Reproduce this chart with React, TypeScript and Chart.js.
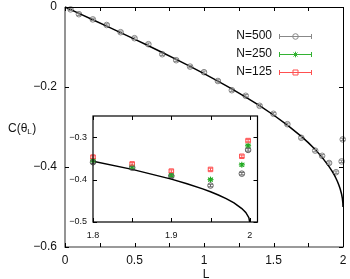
import React, { useEffect, useRef } from 'react';
import { Chart, registerables } from 'chart.js';

Chart.register(...registerables);

// ---------- data ----------
const curveL = [0, 0.1, 0.2, 0.3, 0.4, 0.5, 0.6, 0.7, 0.8, 0.9, 1.0, 1.1, 1.2, 1.3, 1.4, 1.5, 1.6, 1.7, 1.75, 1.8, 1.85, 1.9, 1.92, 1.94, 1.95, 1.96, 1.97, 1.98, 1.99, 1.995, 1.999, 2.0];
const curveC = [0, -0.0159, -0.0319, -0.0479, -0.0641, -0.0804, -0.097, -0.1138, -0.131, -0.1486, -0.1667, -0.1854, -0.2048, -0.2252, -0.2468, -0.27, -0.2952, -0.3234, -0.3391, -0.3564, -0.3759, -0.3989, -0.4097, -0.4218, -0.4287, -0.4362, -0.4448, -0.4549, -0.4682, -0.4775, -0.4899, -0.5];

const mainL = [0.04, 0.1, 0.2, 0.3, 0.4, 0.5, 0.6, 0.7, 0.8, 0.9, 1.0, 1.1, 1.2, 1.3, 1.4, 1.5, 1.6, 1.7, 1.8, 1.85, 1.9, 1.95, 1.99, 1.998];
const n500Main = [-0.006, -0.018, -0.031, -0.045, -0.063, -0.078, -0.093, -0.118, -0.133, -0.149, -0.163, -0.185, -0.208, -0.222, -0.247, -0.267, -0.293, -0.327, -0.359, -0.372, -0.39, -0.413, -0.386, -0.331];
const n500MainErr = [0.003, 0.003, 0.003, 0.003, 0.003, 0.003, 0.003, 0.003, 0.003, 0.003, 0.003, 0.003, 0.003, 0.003, 0.003, 0.003, 0.003, 0.003, 0.003, 0.003, 0.003, 0.003, 0.003, 0.003];

const insetL = [1.8, 1.85, 1.9, 1.95, 1.99, 1.998];
const n500Inset = [-0.359, -0.372, -0.392, -0.414, -0.386, -0.33];
const n250Inset = [-0.355, -0.37, -0.39, -0.4, -0.365, -0.32];
const n125Inset = [-0.347, -0.363, -0.38, -0.376, -0.345, -0.308];
const insetErr = [0.003, 0.003, 0.003, 0.003, 0.003, 0.003];

const mainXTicks = [0, 0.5, 1, 1.5, 2];
const mainXMinor = [0.25, 0.75, 1.25, 1.75];
const mainYTicks = [0, -0.2, -0.4, -0.6];
const insetXTicks = [1.8, 1.9, 2];
const insetXMinor = [1.85, 1.95];
const insetYTicks = [-0.5, -0.4, -0.3];

const legendLabels = ['N=500', 'N=250', 'N=125'];
const legendColors = ['#888888', '#33b233', '#ff5050'];
const legendStyles = ['circle', 'star', 'rect'];

const FONT = '"Liberation Sans", Arial, Helvetica, sans-serif';

function fmt(v: number): string {
  if (v === 0) return '0';
  return (v < 0 ? '\u2212' : '') + String(Math.abs(v));
}

function pts(xs: number[], ys: number[]) {
  return xs.map((x, i) => ({ x, y: ys[i] }));
}

function drawMarker(ctx: CanvasRenderingContext2D, style: string, x: number, y: number, r: number) {
  ctx.beginPath();
  if (style === 'circle') {
    ctx.arc(x, y, r, 0, Math.PI * 2);
  } else if (style === 'rect') {
    ctx.rect(x - r, y - r, 2 * r, 2 * r);
  } else {
    const d = r * Math.SQRT1_2;
    ctx.moveTo(x - r, y); ctx.lineTo(x + r, y);
    ctx.moveTo(x, y - r); ctx.lineTo(x, y + r);
    ctx.moveTo(x - d, y - d); ctx.lineTo(x + d, y + d);
    ctx.moveTo(x - d, y + d); ctx.lineTo(x + d, y - d);
  }
  ctx.stroke();
}

const errorBarPlugin = {
  id: 'errbars',
  afterDatasetsDraw(chart: any) {
    const ctx = chart.ctx as CanvasRenderingContext2D;
    const ys = chart.scales.y;
    chart.data.datasets.forEach((ds: any, i: number) => {
      if (!ds.errors) return;
      const meta = chart.getDatasetMeta(i);
      ctx.save();
      ctx.strokeStyle = ds.borderColor;
      ctx.lineWidth = 1;
      const cap = ds.capWidth || 2.5;
      meta.data.forEach((pt: any, j: number) => {
        const v = ds.data[j].y;
        const e = ds.errors[j];
        const y1 = ys.getPixelForValue(v - e);
        const y2 = ys.getPixelForValue(v + e);
        const x = pt.x;
        ctx.beginPath();
        ctx.moveTo(x, y1); ctx.lineTo(x, y2);
        ctx.moveTo(x - cap, y1); ctx.lineTo(x + cap, y1);
        ctx.moveTo(x - cap, y2); ctx.lineTo(x + cap, y2);
        ctx.stroke();
      });
      ctx.restore();
    });
  },
};

const mainFrame = {
  id: 'mainFrame',
  afterDraw(chart: any) {
    const ctx = chart.ctx as CanvasRenderingContext2D;
    const { left, right, top, bottom } = chart.chartArea;
    const xs = chart.scales.x;
    const ys = chart.scales.y;
    ctx.save();
    // border
    ctx.lineWidth = 1;
    ctx.strokeStyle = '#000';
    ctx.beginPath();
    ctx.moveTo(left, top + 0.5); ctx.lineTo(right + 0.5, top + 0.5); ctx.lineTo(right + 0.5, bottom);
    ctx.stroke();
    ctx.lineWidth = 1.6;
    ctx.strokeStyle = '#7a7a7a';
    ctx.beginPath();
    ctx.moveTo(left, top); ctx.lineTo(left, bottom); ctx.lineTo(right + 1, bottom);
    ctx.stroke();
    // ticks
    ctx.lineWidth = 1;
    ctx.strokeStyle = '#000';
    ctx.beginPath();
    [...mainXTicks, ...mainXMinor].forEach((v) => {
      const px = Math.round(xs.getPixelForValue(v)) + 0.5;
      ctx.moveTo(px, bottom); ctx.lineTo(px, bottom - 4);
      ctx.moveTo(px, top); ctx.lineTo(px, top + 4);
    });
    mainYTicks.forEach((v) => {
      const py = Math.round(ys.getPixelForValue(v)) + 0.5;
      ctx.moveTo(left, py); ctx.lineTo(left + 4, py);
      ctx.moveTo(right, py); ctx.lineTo(right - 4, py);
    });
    ctx.stroke();
    // labels
    ctx.fillStyle = '#111';
    ctx.font = '12px ' + FONT;
    ctx.textAlign = 'center';
    ctx.textBaseline = 'alphabetic';
    mainXTicks.forEach((v) => {
      ctx.fillText(fmt(v), xs.getPixelForValue(v), 264);
    });
    ctx.textAlign = 'right';
    ctx.textBaseline = 'middle';
    mainYTicks.forEach((v) => {
      ctx.fillText(fmt(v), 57, ys.getPixelForValue(v));
    });
    // axis titles
    ctx.textAlign = 'center';
    ctx.textBaseline = 'alphabetic';
    ctx.fillText('L', 206, 278);
    ctx.textAlign = 'left';
    const base = 132;
    const t1 = 'C(\u03b8';
    ctx.fillText(t1, 8, base);
    const w1 = ctx.measureText(t1).width;
    ctx.font = '8px ' + FONT;
    ctx.fillText('L', 8 + w1, base + 2);
    const w2 = ctx.measureText('L').width;
    ctx.font = '12px ' + FONT;
    ctx.fillText(')', 8 + w1 + w2 + 0.5, base);
    // legend
    const lys = [36, 54, 72];
    legendLabels.forEach((lab, i) => {
      const y = lys[i];
      ctx.font = '12px ' + FONT;
      ctx.textAlign = 'right';
      ctx.textBaseline = 'middle';
      ctx.fillStyle = '#111';
      ctx.fillText(lab, 272, y);
      ctx.strokeStyle = legendColors[i];
      ctx.lineWidth = 1;
      const yy = Math.round(y) + 0.5;
      ctx.beginPath();
      ctx.moveTo(279.5, yy); ctx.lineTo(311.5, yy);
      ctx.moveTo(279.5, yy - 2.5); ctx.lineTo(279.5, yy + 2.5);
      ctx.moveTo(311.5, yy - 2.5); ctx.lineTo(311.5, yy + 2.5);
      ctx.stroke();
      drawMarker(ctx, legendStyles[i], 295.5, yy, legendStyles[i] === 'rect' ? 2.5 : 2.8);
    });
    ctx.restore();
  },
};

const insetFrame = {
  id: 'insetFrame',
  beforeDatasetsDraw(chart: any) {
    const ctx = chart.ctx as CanvasRenderingContext2D;
    const { left, right, top, bottom } = chart.chartArea;
    ctx.save();
    ctx.fillStyle = '#fff';
    ctx.fillRect(left, top, right - left, bottom - top);
    ctx.restore();
  },
  afterDraw(chart: any) {
    const ctx = chart.ctx as CanvasRenderingContext2D;
    const { left, right, top, bottom } = chart.chartArea;
    const xs = chart.scales.x;
    const ys = chart.scales.y;
    ctx.save();
    ctx.strokeStyle = '#000';
    ctx.lineWidth = 1.2;
    ctx.strokeRect(left, top, right - left, bottom - top);
    ctx.lineWidth = 1;
    ctx.beginPath();
    [...insetXTicks, ...insetXMinor].forEach((v) => {
      const px = Math.round(xs.getPixelForValue(v)) + 0.5;
      ctx.moveTo(px, bottom); ctx.lineTo(px, bottom - 4);
      ctx.moveTo(px, top); ctx.lineTo(px, top + 4);
    });
    insetYTicks.forEach((v) => {
      const py = Math.round(ys.getPixelForValue(v)) + 0.5;
      ctx.moveTo(left, py); ctx.lineTo(left + 4, py);
      ctx.moveTo(right, py); ctx.lineTo(right - 4, py);
    });
    ctx.stroke();
    ctx.fillStyle = '#111';
    ctx.font = '9px ' + FONT;
    ctx.textAlign = 'center';
    ctx.textBaseline = 'alphabetic';
    insetXTicks.forEach((v) => {
      ctx.fillText(fmt(v), xs.getPixelForValue(v), 237.5);
    });
    ctx.textAlign = 'right';
    ctx.textBaseline = 'middle';
    insetYTicks.forEach((v) => {
      ctx.fillText(fmt(v), 87, ys.getPixelForValue(v));
    });
    ctx.restore();
  },
};

export default function App() {
  const mainRef = useRef<HTMLCanvasElement>(null);
  const insetRef = useRef<HTMLCanvasElement>(null);

  useEffect(() => {
    const main = new Chart(mainRef.current as HTMLCanvasElement, {
      type: 'scatter',
      data: {
        datasets: [
          {
            label: 'theory',
            data: pts(curveL, curveC),
            showLine: true,
            borderColor: '#000',
            borderWidth: 1.5,
            pointRadius: 0,
            tension: 0,
            fill: false,
            clip: 2,
          } as any,
          {
            label: 'N=500',
            data: pts(mainL, n500Main),
            showLine: false,
            pointStyle: 'circle',
            pointRadius: 2.8,
            borderColor: '#888888',
            backgroundColor: 'rgba(0,0,0,0)',
            borderWidth: 1,
            clip: false,
            errors: n500MainErr,
            capWidth: 2.5,
          } as any,
        ],
      },
      options: {
        animation: false,
        responsive: false,
        events: [],
        layout: { padding: { left: 65, right: 7, top: 7, bottom: 32 } },
        scales: {
          x: { type: 'linear', min: 0, max: 2, display: false },
          y: { type: 'linear', min: -0.6, max: 0, display: false },
        },
        plugins: { legend: { display: false }, tooltip: { enabled: false } },
      },
      plugins: [errorBarPlugin, mainFrame],
    });

    const inset = new Chart(insetRef.current as HTMLCanvasElement, {
      type: 'scatter',
      data: {
        datasets: [
          {
            label: 'theory',
            data: pts(curveL, curveC),
            showLine: true,
            borderColor: '#000',
            borderWidth: 1.5,
            pointRadius: 0,
            tension: 0,
            fill: false,
          } as any,
          {
            label: 'N=500',
            data: pts(insetL, n500Inset),
            pointStyle: 'circle',
            pointRadius: 2.8,
            borderColor: '#666666',
            backgroundColor: 'rgba(0,0,0,0)',
            borderWidth: 1,
            clip: false,
            errors: insetErr,
            capWidth: 2.5,
          } as any,
          {
            label: 'N=250',
            data: pts(insetL, n250Inset),
            pointStyle: 'star',
            pointRadius: 3,
            borderColor: '#22aa22',
            backgroundColor: 'rgba(0,0,0,0)',
            borderWidth: 1,
            clip: false,
            errors: insetErr,
            capWidth: 2.5,
          } as any,
          {
            label: 'N=125',
            data: pts(insetL, n125Inset),
            pointStyle: 'rect',
            pointRadius: 3.2,
            borderColor: '#ff5050',
            backgroundColor: 'rgba(0,0,0,0)',
            borderWidth: 1,
            clip: false,
            errors: insetErr,
            capWidth: 2.5,
          } as any,
        ],
      },
      options: {
        animation: false,
        responsive: false,
        events: [],
        layout: { padding: { left: 93, right: 92.5, top: 116, bottom: 57 } },
        scales: {
          x: { type: 'linear', min: 1.8, max: 2.01, display: false },
          y: { type: 'linear', min: -0.5, max: -0.25, display: false },
        },
        plugins: { legend: { display: false }, tooltip: { enabled: false } },
      },
      plugins: [insetFrame, errorBarPlugin],
    });

    return () => {
      main.destroy();
      inset.destroy();
    };
  }, []);

  return (
    <div style={{ position: 'absolute', left: 0, top: 0, width: 350, height: 279, background: '#fff' }}>
      <canvas ref={mainRef} width={350} height={279} style={{ position: 'absolute', left: 0, top: 0 }} />
      <canvas ref={insetRef} width={350} height={279} style={{ position: 'absolute', left: 0, top: 0 }} />
    </div>
  );
}
